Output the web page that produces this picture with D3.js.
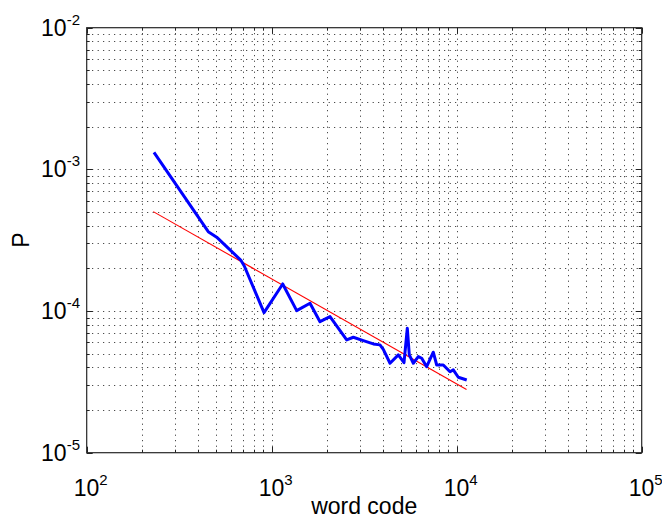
<!DOCTYPE html>
<html>
<head>
<meta charset="utf-8">
<script src="https://cdn.jsdelivr.net/npm/d3@7"></script>
<style>
  html, body { margin: 0; padding: 0; background: #fff; }
  svg { display: block; }
  text { font-family: "Liberation Sans", Arial, Helvetica, sans-serif; fill: #000; }
</style>
</head>
<body>
<svg id="chart" width="662" height="518"></svg>
<script>
// ---- data ----
const xTickExponents = [2, 3, 4, 5];
const yTickExponents = [-5, -4, -3, -2];
const xLabel = "word code";
const yLabel = "P";

// empirical distribution (blue)
const wordCode = [231, 454, 504, 680, 711, 909, 1147, 1365, 1611, 1824, 2066, 2543, 2761, 3127, 3541, 3848, 4011, 4361, 4834, 5190, 5408, 5544, 5829, 6201, 6470, 6882, 7471, 7797, 8464, 9201, 9586, 10200, 11330];
const probability = [1.32e-3, 3.63e-4, 3.32e-4, 2.29e-4, 2.08e-4, 9.74e-5, 1.553e-4, 1.006e-4, 1.135e-4, 8.41e-5, 9.13e-5, 6.25e-5, 6.53e-5, 6.18e-5, 5.86e-5, 5.77e-5, 5.37e-5, 4.28e-5, 4.90e-5, 4.32e-5, 7.56e-5, 4.90e-5, 4.28e-5, 4.77e-5, 4.64e-5, 4.05e-5, 5.12e-5, 4.16e-5, 4.16e-5, 3.73e-5, 3.84e-5, 3.41e-5, 3.26e-5];

// power-law fit (red)
const fitCode = [229, 11300];
const fitProb = [5.03e-4, 2.79e-5];

// ---- layout ----
const svg = d3.select("#chart");
const pLeft = 86.7, pRight = 641.7, pTop = 27.7, pBottom = 452.7;

const x = d3.scaleLog().domain([1e2, 1e5]).range([pLeft, pRight]);
const y = d3.scaleLog().domain([1e-5, 1e-2]).range([pBottom, pTop]);

const xAll = x.ticks();   // 1..9 x 10^k
const yAll = y.ticks();
const isMajor = v => Math.abs(Math.log10(v) - Math.round(Math.log10(v))) < 1e-9;

// grid (dotted)
const grid = svg.append("g").attr("stroke", "#222").attr("stroke-width", 1)
  .attr("stroke-dasharray", "1,4.5").attr("fill", "none");
grid.selectAll("line.gx").data(xAll.filter(v => v > 1e2 * 1.001 && v < 1e5 * 0.999)).join("line")
  .attr("x1", d => Math.round(x(d)) + 0.5).attr("x2", d => Math.round(x(d)) + 0.5)
  .attr("y1", pTop).attr("y2", pBottom);
grid.selectAll("line.gy").data(yAll.filter(v => v > 1e-5 * 1.001 && v < 1e-2 * 0.999)).join("line")
  .attr("y1", d => Math.round(y(d)) + 0.5).attr("y2", d => Math.round(y(d)) + 0.5)
  .attr("x1", pLeft).attr("x2", pRight);

// ticks (inside, on all four sides)
const ticks = svg.append("g").attr("stroke", "#222").attr("stroke-width", 1);
xAll.forEach(v => {
  const len = isMajor(v) ? 6 : 3;
  const px = Math.round(x(v)) + 0.5;
  ticks.append("line").attr("x1", px).attr("x2", px).attr("y1", pBottom).attr("y2", pBottom - len);
  ticks.append("line").attr("x1", px).attr("x2", px).attr("y1", pTop).attr("y2", pTop + len);
});
yAll.forEach(v => {
  const len = isMajor(v) ? 6 : 3;
  const py = Math.round(y(v)) + 0.5;
  ticks.append("line").attr("y1", py).attr("y2", py).attr("x1", pLeft).attr("x2", pLeft + len);
  ticks.append("line").attr("y1", py).attr("y2", py).attr("x1", pRight).attr("x2", pRight - len);
});

// fit line (red)
const line = d3.line().x(d => x(d[0])).y(d => y(d[1]));
svg.append("path")
  .datum(fitCode.map((c, i) => [c, fitProb[i]]))
  .attr("d", line).attr("fill", "none").attr("stroke", "#ff0000").attr("stroke-width", 1.1);

// data line (blue)
svg.append("path")
  .datum(wordCode.map((c, i) => [c, probability[i]]))
  .attr("d", line).attr("fill", "none").attr("stroke", "#0000ff")
  .attr("stroke-width", 3).attr("stroke-linejoin", "round");

// axes box
svg.append("rect").attr("x", pLeft).attr("y", pTop)
  .attr("width", pRight - pLeft).attr("height", pBottom - pTop)
  .attr("fill", "none").attr("stroke", "#262626").attr("stroke-width", 1.2);

// tick labels
xTickExponents.forEach(e => {
  const t = svg.append("text").attr("x", x(Math.pow(10, e)) + 4).attr("y", 496)
    .attr("text-anchor", "middle").attr("font-size", 23);
  t.append("tspan").text("10");
  t.append("tspan").attr("dy", -11).attr("font-size", 15).text(String(e));
});
yTickExponents.forEach(e => {
  const t = svg.append("text").attr("x", 80).attr("y", y(Math.pow(10, e)) + 8)
    .attr("text-anchor", "end").attr("font-size", 23);
  t.append("tspan").text("10");
  t.append("tspan").attr("dy", -11).attr("font-size", 15).text(String(e));
});

// axis titles
svg.append("text").attr("x", (pLeft + pRight) / 2).attr("y", 514)
  .attr("text-anchor", "middle").attr("font-size", 23).text(xLabel);
svg.append("text").attr("transform", `translate(29,${(pTop + pBottom) / 2}) rotate(-90)`)
  .attr("text-anchor", "middle").attr("font-size", 23).text(yLabel);
</script>
</body>
</html>
